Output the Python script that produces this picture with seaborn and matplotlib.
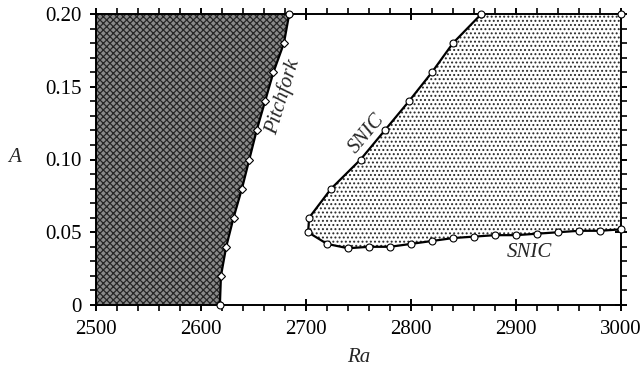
import matplotlib
matplotlib.use("Agg")
import matplotlib.pyplot as plt
import seaborn as sns
import numpy as np
from matplotlib.ticker import MultipleLocator, FixedFormatter, FixedLocator

# ---- data ----
pitchfork_ra = [2618, 2619, 2624, 2631, 2639, 2646, 2653, 2661, 2669, 2679, 2684]
pitchfork_a = [0.0, 0.02, 0.04, 0.06, 0.08, 0.10, 0.12, 0.14, 0.16, 0.18, 0.20]

snic_ra = [2867, 2840, 2820, 2798, 2775, 2752, 2724, 2703, 2702, 2720, 2740, 2760,
           2780, 2800, 2820, 2840, 2860, 2880, 2900, 2920, 2940, 2960, 2980, 3000]
snic_a = [0.20, 0.18, 0.16, 0.14, 0.12, 0.10, 0.08, 0.06, 0.05, 0.042, 0.039, 0.040,
          0.040, 0.042, 0.044, 0.046, 0.047, 0.048, 0.048, 0.049, 0.050, 0.051, 0.051, 0.052]

x_ticks = [2500, 2600, 2700, 2800, 2900, 3000]
x_labels = ["2500", "2600", "2700", "2800", "2900", "3000"]
y_ticks = [0, 0.05, 0.10, 0.15, 0.20]
y_labels = ["0", "0.05", "0.10", "0.15", "0.20"]
ra_min, ra_max = 2500, 3000
a_min, a_max = 0.0, 0.20

sns.set_style("ticks")
plt.rcParams['font.family'] = ['Liberation Serif', 'DejaVu Serif']
plt.rcParams['hatch.linewidth'] = 0.9

FS = 15

fig = plt.figure(figsize=(6.42, 3.69), dpi=100)
ax = fig.add_axes([96/642, 1 - 305/369, (621-96)/642, (305-14)/369])

# filled regions
left_x = [ra_min] + pitchfork_ra + [ra_min]
left_y = [a_min] + pitchfork_a + [a_max]
ax.fill(left_x, left_y, facecolor='#8a8a8a', edgecolor='#262626', linewidth=0,
        hatch='xxxxx', zorder=1)

st_x = snic_ra + [ra_max]
st_y = snic_a + [a_max]
ax.fill(st_x, st_y, facecolor='white', edgecolor='#2a2a2a', linewidth=0,
        hatch='....', zorder=1)

# curves
sns.lineplot(x=pitchfork_ra, y=pitchfork_a, sort=False, estimator=None, ax=ax,
             color='black', lw=1.6, marker='D', markersize=4.5,
             markerfacecolor='white', markeredgecolor='black',
             markeredgewidth=0.8, zorder=3)
sns.lineplot(x=snic_ra, y=snic_a, sort=False, estimator=None, ax=ax,
             color='black', lw=1.6, marker='o', markersize=5,
             markerfacecolor='white', markeredgecolor='black',
             markeredgewidth=0.8, zorder=3)
ax.plot([pitchfork_ra[0], pitchfork_ra[-1]], [pitchfork_a[0], pitchfork_a[-1]], 'o',
        ms=5, mfc='white', mec='black', mew=0.8, zorder=4, clip_on=False)
ax.plot([snic_ra[0], ra_max, ra_max], [snic_a[0], a_max, snic_a[-1]], 'o', ms=5,
        mfc='white', mec='black', mew=0.8, zorder=4, clip_on=False)

# labels on curves
ax.text(2678, 0.143, 'Pitchfork', rotation=73, fontsize=FS, style='italic',
        ha='center', va='center')
ax.text(2758, 0.118, 'SNIC', rotation=50, fontsize=FS, style='italic',
        ha='center', va='center')
ax.text(2913, 0.0364, 'SNIC', rotation=0, fontsize=FS, style='italic',
        ha='center', va='center')

ax.set_xlim(ra_min, ra_max)
ax.set_ylim(a_min, a_max)
ax.xaxis.set_major_locator(FixedLocator(x_ticks))
ax.xaxis.set_major_formatter(FixedFormatter(x_labels))
ax.yaxis.set_major_locator(FixedLocator(y_ticks))
ax.yaxis.set_major_formatter(FixedFormatter(y_labels))
ax.xaxis.set_minor_locator(MultipleLocator(20))
ax.yaxis.set_minor_locator(MultipleLocator(0.01))

ax.tick_params(which='major', direction='inout', length=9, width=1.4,
               top=True, right=True, labelsize=FS, colors='black')
ax.tick_params(axis='x', which='major', pad=6)
ax.tick_params(axis='y', which='major', pad=6)
ax.tick_params(which='minor', direction='out', length=4, width=1.4,
               top=True, right=True)
for s in ax.spines.values():
    s.set_linewidth(1.4)
    s.set_color('black')
    s.set_visible(True)

ax.set_xlabel('Ra', fontsize=FS, style='italic', va='center', ha='center')
ax.xaxis.set_label_coords((359-96)/525, (305-358)/291)
ax.set_ylabel('A', fontsize=FS, style='italic', rotation=0, va='center', ha='center')
ax.yaxis.set_label_coords((15-96)/525, (305-157)/291)

fig.savefig('out.png', dpi=100)
